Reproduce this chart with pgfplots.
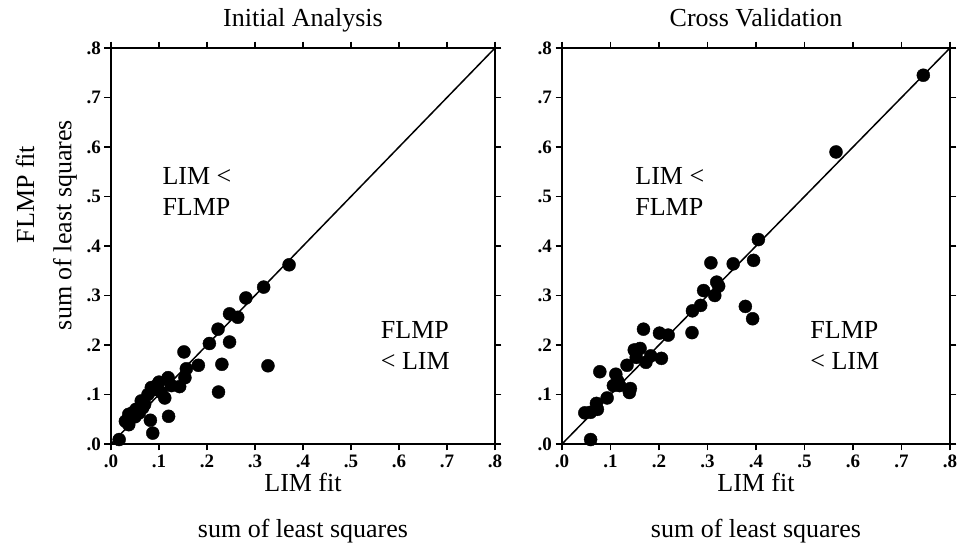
\documentclass[border=0pt]{standalone}
\usepackage{pgfplots}
\pgfplotsset{compat=1.18}
\usepackage{fontspec}
\setmainfont{Liberation Serif}
\tikzset{
  big/.style={font=\fontsize{26}{31}\selectfont},
}
\pgfplotsset{
  myax/.style={
    scale only axis, width=384pt, height=396pt,
    xmin=0, xmax=0.8, ymin=0, ymax=0.8,
    xtick={0,0.1,0.2,0.3,0.4,0.5,0.6,0.7,0.8},
    ytick={0,0.1,0.2,0.3,0.4,0.5,0.6,0.7,0.8},
    xticklabels={.0,.1,.2,.3,.4,.5,.6,.7,.8},
    yticklabels={.0,.1,.2,.3,.4,.5,.6,.7,.8},
    tick align=outside, major tick length=6.5pt,
    tick style={black, line width=1.3pt},
    axis line style={line width=1.6pt},
    ticklabel style={font=\fontsize{19}{21}\selectfont\bfseries},
    xticklabel style={yshift=-1pt},
    clip=false,
  },
  pts/.style={only marks, mark=*, mark size=6.5pt, black, mark options={fill=black}},
}
\begin{document}
\begin{tikzpicture}
\path[use as bounding box] (-111pt,-105pt) rectangle (851pt,444pt);
\begin{axis}[myax, at={(0pt,0pt)}, anchor=south west]
\addplot[black, line width=1.5pt] coordinates {(0,0) (0.8,0.8)};
\addplot[pts] coordinates {
(0.371,0.362) (0.318,0.317) (0.281,0.295) (0.247,0.263) (0.264,0.256)
(0.223,0.232) (0.205,0.203) (0.247,0.206) (0.152,0.186) (0.182,0.159)
(0.231,0.161) (0.327,0.158) (0.157,0.152) (0.154,0.134) (0.143,0.116)
(0.119,0.134) (0.126,0.118) (0.100,0.125) (0.084,0.114) (0.112,0.093)
(0.224,0.105) (0.077,0.100) (0.063,0.087) (0.066,0.073) (0.045,0.063)
(0.037,0.060) (0.059,0.063) (0.030,0.046) (0.037,0.039) (0.082,0.048)
(0.120,0.056) (0.087,0.022) (0.017,0.009) (0.052,0.070) (0.091,0.110)
(0.105,0.104) (0.070,0.080) (0.095,0.118) (0.050,0.055)
};
\node[big, anchor=base] at (axis description cs:0.5,1.054) {Initial Analysis};
\node[big, align=left, anchor=west] at (axis cs:0.1,0.51) {LIM <\\FLMP};
\node[big, align=left, anchor=west] at (axis cs:0.555,0.20) {FLMP\\< LIM};
\node[big, anchor=base] at (axis description cs:0.5,-0.12) {LIM fit};
\node[big, anchor=base] at (axis description cs:0.5,-0.236) {sum of least squares};
\node[big, rotate=90, anchor=center] at (axis description cs:-0.224,0.63) {FLMP fit};
\node[big, rotate=90, anchor=center] at (axis description cs:-0.12,0.553) {sum of least squares};
\end{axis}
\begin{axis}[myax, at={(451pt,0pt)}, anchor=south west, width=388pt]
\addplot[black, line width=1.5pt] coordinates {(0,0) (0.8,0.8)};
\addplot[pts] coordinates {
(0.745,0.745) (0.565,0.590) (0.405,0.413) (0.395,0.371) (0.353,0.364)
(0.307,0.366) (0.319,0.327) (0.323,0.319) (0.315,0.300) (0.292,0.310)
(0.286,0.280) (0.269,0.269) (0.268,0.225) (0.378,0.278) (0.393,0.253)
(0.219,0.220) (0.201,0.224) (0.168,0.232) (0.161,0.193) (0.149,0.190)
(0.153,0.175) (0.173,0.165) (0.183,0.178) (0.205,0.173) (0.134,0.159)
(0.078,0.146) (0.111,0.141) (0.115,0.127) (0.106,0.118) (0.119,0.118)
(0.141,0.112) (0.139,0.104) (0.093,0.093) (0.071,0.082) (0.073,0.070)
(0.047,0.063) (0.059,0.064) (0.059,0.009)
};
\node[big, anchor=base] at (axis description cs:0.5,1.054) {Cross Validation};
\node[big, align=left, anchor=west] at (axis cs:0.144,0.51) {LIM <\\FLMP};
\node[big, align=left, anchor=west] at (axis cs:0.505,0.20) {FLMP\\< LIM};
\node[big, anchor=base] at (axis description cs:0.5,-0.12) {LIM fit};
\node[big, anchor=base] at (axis description cs:0.5,-0.236) {sum of least squares};
\end{axis}
\end{tikzpicture}
\end{document}
